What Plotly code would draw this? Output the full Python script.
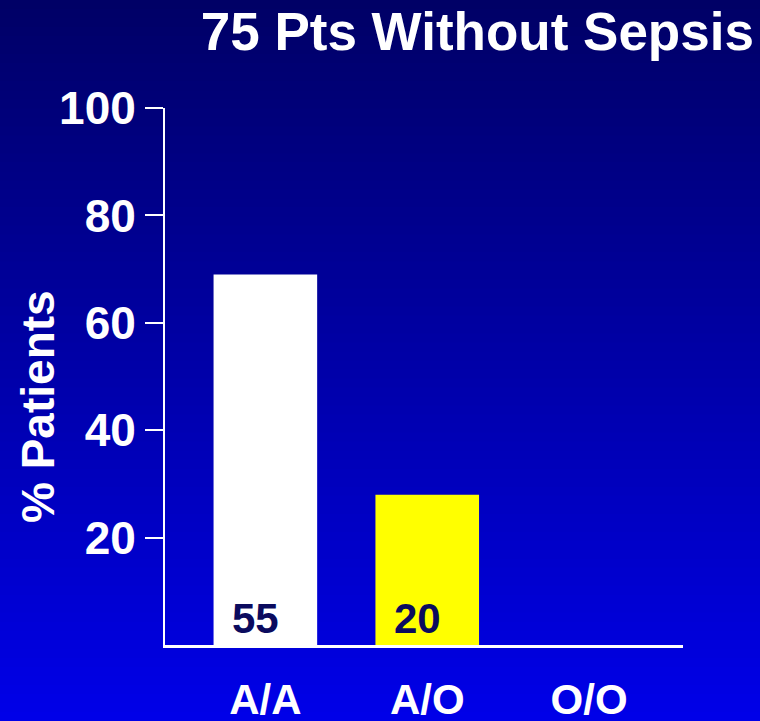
import plotly.graph_objects as go

# data
groups = ["A/A", "A/O", "O/O"]
pct_patients = [69, 28, 0]
n_patients = [55, 20, 0]
bar_colors = ["#ffffff", "#ffff00", "#ffffff"]
y_ticks = [20, 40, 60, 80, 100]

W, H = 760, 721
L, R, T, B = 165, 77, 108, 76
FONT = "Liberation Sans, Arial, sans-serif"

fig = go.Figure()
fig.add_trace(go.Bar(x=groups, y=pct_patients, marker_color=bar_colors,
                     marker_line_width=0, width=0.64,
                     showlegend=False, hoverinfo="skip"))

# counts printed at the foot of each bar
for g, n in zip(groups, n_patients):
    if n:
        fig.add_annotation(x=g, y=0, text=str(n), showarrow=False,
                           yanchor="middle", yshift=27, xshift=-10,
                           font=dict(family=FONT, size=42, color="#0b0b5e", weight="bold"))

# vertical gradient background built from thin strips (paper coords)
ph = H - T - B
pw = W - L - R
steps = 80
shapes = []
for i in range(steps):
    p0 = i * H / steps
    p1 = (i + 1) * H / steps + 1
    f = i / (steps - 1)
    c = "rgb(0,0,%d)" % round(102 + f * (232 - 102))
    shapes.append(dict(type="rect", xref="paper", yref="paper", layer="below",
                       x0=-L / pw - 0.05, x1=1 + R / pw + 0.05,
                       y0=(H - B - p1) / ph, y1=(H - B - p0) / ph,
                       fillcolor=c, line=dict(width=0)))

fig.add_annotation(xref="paper", yref="paper", x=(38 - L) / pw, y=(H - B - 407) / ph,
                   xanchor="center", yanchor="middle",
                   text="% Patients", textangle=-90, showarrow=False,
                   font=dict(family=FONT, size=46, color="white", weight="bold"))

fig.update_layout(
    width=W, height=H,
    margin=dict(l=L, r=R, t=T, b=B, autoexpand=False),
    paper_bgcolor="#0000e8", plot_bgcolor="rgba(0,0,0,0)",
    shapes=shapes,
    title=dict(text="75 Pts Without Sepsis", xref="container", yref="container",
               x=0.992, xanchor="right", y=1 - 31 / H, yanchor="middle",
               font=dict(family=FONT, size=53, color="white", weight="bold")),
    xaxis=dict(range=[-0.62, 2.58], showgrid=False, zeroline=False, automargin=False,
               showline=True, linecolor="white", linewidth=3,
               ticks="", ticklabelstandoff=16,
               tickfont=dict(family=FONT, size=42, color="white", weight="bold")),
    yaxis=dict(range=[0, 100], tickvals=y_ticks, showgrid=False, zeroline=False,
               automargin=False,
               showline=True, linecolor="white", linewidth=2,
               ticks="outside", ticklen=18, tickwidth=2, tickcolor="white",
               ticklabelstandoff=0,
               tickfont=dict(family=FONT, size=46, color="white", weight="bold")),
)

fig.write_html("out.html", config={"displayModeBar": False},
               post_script="document.body.style.margin='0';")
